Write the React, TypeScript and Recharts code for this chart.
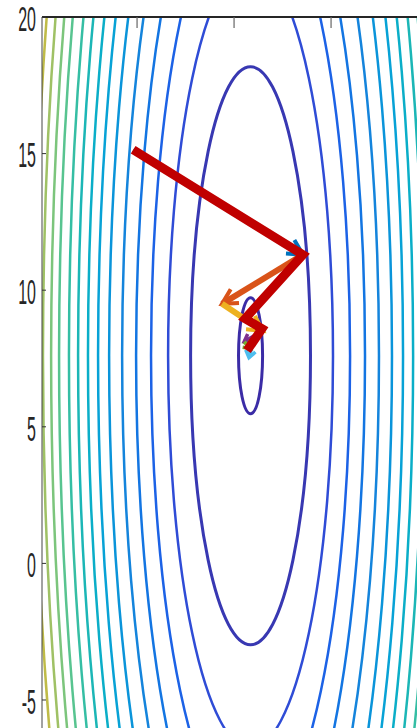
import { ComposedChart, Line, XAxis, YAxis, ReferenceArea } from "recharts";

const xTicks = [0, 5, 10];
const yTicks = [-5, 0, 5, 10, 15, 20];

// contour ellipses (semi-axes in data units), innermost first
const centerX = 5.85;
const centerY = 7.6;
const contourRx = [0.62, 3.09, 4.25, 5.13, 5.9, 6.62, 7.29, 7.86, 8.38, 8.89, 9.36, 9.87, 10.28, 10.7, 11.13];
const contourRy = [2.12, 10.58, 14.37, 17.34, 19.95, 22.39, 24.65, 26.57, 28.31, 30.05, 31.62, 33.37, 34.76, 36.15, 37.64];

// quiver steps
const stepX = [-0.2, 8.55, 4.38, 6.49, 5.52, 5.88, 5.77];
const stepY = [15.14, 11.3, 9.5, 8.51, 8.11, 7.86, 7.53];

// red path
const pathX = [-0.2, 8.55, 5.57, 6.44, 5.67];
const pathY = [15.14, 11.3, 8.96, 8.59, 7.79];

const contourColors = [
  "#3B2CA6", "#3838B2", "#2F4CD6", "#1C62E6", "#1375E2", "#1484DC", "#0A94DA", "#07A2D6",
  "#0AAEC8", "#1BB6B6", "#35BEA4", "#58C490", "#7CC57C", "#9FC165", "#BFBB48",
];
const arrowColors = ["#0072BD", "#D95319", "#EDB120", "#7E2F8E", "#77AC30", "#4DBEEE"];

const arrows = arrowColors.map((color, i) => ({
  color,
  data: [
    { x: stepX[i], y: stepY[i] },
    { x: stepX[i + 1], y: stepY[i + 1] },
  ],
}));
const redPath = pathX.map((x, i) => ({ x, y: pathY[i] }));

function ellipseShape(color: string, width: number) {
  return (p: any) => (
    <ellipse
      cx={p.x + p.width / 2}
      cy={p.y + p.height / 2}
      rx={Math.abs(p.width) / 2}
      ry={Math.abs(p.height) / 2}
      fill="none"
      stroke={color}
      strokeWidth={width}
      clipPath={p.clipPath}
    />
  );
}

function YTick(props: any) {
  const { x, y, payload } = props;
  const ty = y + 1.5;
  return (
    <g>
      <line x1={x + 6} x2={x + 10} y1={y} y2={y} stroke="#333" strokeWidth={1} />
      <text
        x={x}
        y={ty}
        transform={`translate(${x},${ty}) scale(1,2.2) translate(${-x},${-ty})`}
        textAnchor="end"
        dominantBaseline="central"
        fontSize={16}
        fill="#262626"
        fontFamily="'Liberation Sans', Arial, sans-serif"
      >
        {payload.value}
      </text>
    </g>
  );
}

function TopTick(props: any) {
  const { x, y } = props;
  return <line x1={x} x2={x} y1={y} y2={y + 11} stroke="#666" strokeWidth={1.2} />;
}

export default function App() {
  return (
    <div style={{ position: "absolute", left: 0, top: 0, width: 417, height: 728, background: "#fff", overflow: "hidden" }}>
      <ComposedChart width={417} height={728} margin={{ top: 0, right: 0, bottom: 0, left: 0 }}>
        <defs>
          {arrowColors.map((c, i) => (
            <marker
              key={c}
              id={`head${i}`}
              markerUnits="userSpaceOnUse"
              markerWidth={24}
              markerHeight={24}
              refX={16}
              refY={12}
              orient="auto"
              style={{ overflow: "visible" }}
            >
              {i < 3 ? (
                <path d="M1,4 L16,12 L1,20" fill="none" stroke={c} strokeWidth={4} />
              ) : (
                <path d="M9,7 L16,12 L9,17" fill="none" stroke={c} strokeWidth={3.5} />
              )}
            </marker>
          ))}
        </defs>
        <XAxis
          xAxisId={0}
          type="number"
          dataKey="x"
          orientation="top"
          domain={[-4.9, 14.43]}
          allowDataOverflow
          ticks={xTicks}
          interval={0}
          height={17}
          tickSize={0}
          tickMargin={0}
          tickLine={false}
          tick={TopTick}
          axisLine={{ stroke: "#262626", strokeWidth: 2 }}
        />
        <YAxis
          type="number"
          dataKey="y"
          domain={[-6.025, 20]}
          allowDataOverflow
          ticks={yTicks}
          interval={0}
          width={42}
          tickSize={0}
          tickMargin={6}
          tickLine={false}
          tick={YTick}
          axisLine={{ stroke: "#444", strokeWidth: 1 }}
        />
        {contourRx.map((rx, i) => (
          <ReferenceArea
            key={i}
            x1={centerX - rx}
            x2={centerX + rx}
            y1={centerY - contourRy[i]}
            y2={centerY + contourRy[i]}
            ifOverflow="hidden"
            shape={ellipseShape(contourColors[i], i < 2 ? 3 : 2.5)}
          />
        ))}
        {arrows.map((a, i) => (
          <Line
            key={i}
            data={a.data}
            dataKey="y"
            stroke={a.color}
            strokeWidth={i === 0 ? 5 : i < 3 ? 6 : 4}
            dot={false}
            activeDot={false}
            markerEnd={`url(#head${i})`}
            isAnimationActive={false}
          />
        ))}
        <Line
          data={redPath}
          dataKey="y"
          stroke="#C00000"
          strokeWidth={9}
          strokeLinejoin="miter"
          strokeLinecap="butt"
          dot={false}
          activeDot={false}
          isAnimationActive={false}
        />
      </ComposedChart>
    </div>
  );
}
